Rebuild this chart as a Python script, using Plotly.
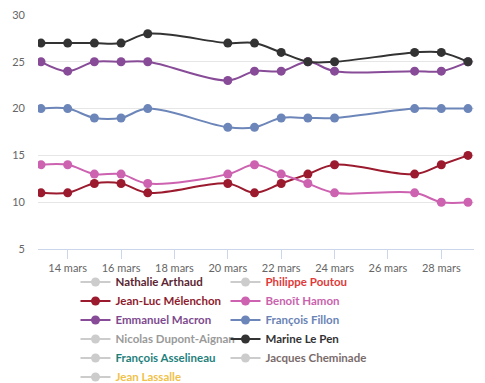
import plotly.graph_objects as go

dates = ["2017-03-13", "2017-03-14", "2017-03-15", "2017-03-16", "2017-03-17",
         "2017-03-20", "2017-03-21", "2017-03-22", "2017-03-23", "2017-03-24",
         "2017-03-27", "2017-03-28", "2017-03-29"]

le_pen = [27, 27, 27, 27, 28, 27, 27, 26, 25, 25, 26, 26, 25]
macron = [25, 24, 25, 25, 25, 23, 24, 24, 25, 24, 24, 24, 25]
fillon = [20, 20, 19, 19, 20, 18, 18, 19, 19, 19, 20, 20, 20]
melenchon = [11, 11, 12, 12, 11, 12, 11, 12, 13, 14, 13, 14, 15]
hamon = [14, 14, 13, 13, 12, 13, 14, 13, 12, 11, 11, 10, 10]
# series switched off in the legend: no values shown
hidden = [None] * len(dates)

tick_vals = ["2017-03-14", "2017-03-16", "2017-03-18", "2017-03-20",
             "2017-03-22", "2017-03-24", "2017-03-26", "2017-03-28"]
tick_text = ["14 mars", "16 mars", "18 mars", "20 mars",
             "22 mars", "24 mars", "26 mars", "28 mars"]
y_ticks = [5, 10, 15, 20, 25, 30]

# (name, text colour, line colour, values)
series = [
    ("Nathalie Arthaud", "#5b2533", "#cccccc", hidden),
    ("Philippe Poutou", "#e03a3a", "#cccccc", hidden),
    ("Jean-Luc Mélenchon", "#8e1b2e", "#9b1a2e", melenchon),
    ("Benoît Hamon", "#c963ad", "#cc62b0", hamon),
    ("Emmanuel Macron", "#7e4a8e", "#874b97", macron),
    ("François Fillon", "#6a83b5", "#6d86b9", fillon),
    ("Nicolas Dupont-Aignan", "#9a9a9a", "#cccccc", hidden),
    ("Marine Le Pen", "#333333", "#333333", le_pen),
    ("François Asselineau", "#1f7f7c", "#cccccc", hidden),
    ("Jacques Cheminade", "#7a6b6b", "#cccccc", hidden),
    ("Jean Lassalle", "#f0c24a", "#cccccc", hidden),
]

fig = go.Figure()
for name, tcol, lcol, vals in series:
    fig.add_trace(go.Scatter(
        x=dates, y=vals, mode="lines+markers",
        name=f'<span style="color:{tcol}">{name}</span>',
        line=dict(color=lcol, width=2, shape="spline"),
        marker=dict(color=lcol, size=9),
        hoverinfo="x+y+name",
    ))

fig.update_layout(
    width=485, height=383,
    margin=dict(l=38, r=11, t=15, b=134, autoexpand=False),
    paper_bgcolor="white", plot_bgcolor="white",
    font=dict(family="Lato, sans-serif", color="#666666", size=11),
    showlegend=True,
    legend=dict(
        orientation="h", x=0.086, xanchor="left", y=-0.079, yanchor="top",
        entrywidth=105, entrywidthmode="pixels",
        font=dict(family="Lato, sans-serif", size=11.5, weight="bold"),
        itemwidth=30, traceorder="normal", bgcolor="rgba(0,0,0,0)",
    ),
    xaxis=dict(
        type="date",
        range=["2017-03-12 21:18", "2017-03-29 05:24"],
        tickvals=tick_vals, ticktext=tick_text,
        showgrid=False, showline=True, linecolor="#ccd6eb", linewidth=1,
        ticks="outside", ticklen=9, tickcolor="#ccd6eb", tickwidth=1,
        tickfont=dict(size=11, color="#666666"),
        zeroline=False, fixedrange=True, automargin=False,
    ),
    yaxis=dict(
        range=[5, 30], tickvals=y_ticks,
        showgrid=True, gridcolor="#e6e6e6", gridwidth=1,
        showline=False, zeroline=False, ticks="",
        ticklabelstandoff=12,
        tickfont=dict(size=11, color="#666666"),
        fixedrange=True, automargin=False,
    ),
)

fig.write_html("out.html", config={"displayModeBar": False},
               post_script="document.body.style.margin='0';")
